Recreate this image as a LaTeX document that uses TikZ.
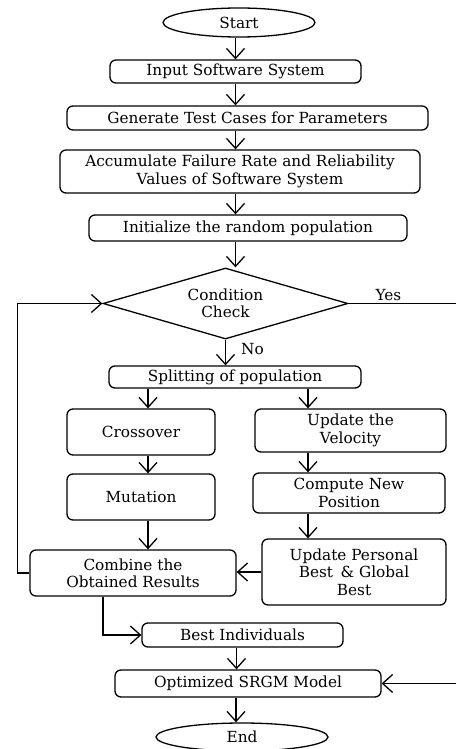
\documentclass[tikz,border=0pt]{standalone}
\usepackage{fontspec}
\setmainfont{DejaVu Serif}
\usepackage{tikz}
\usetikzlibrary{shapes.geometric,arrows.meta}

\begin{document}
\begin{tikzpicture}[x=1pt,y=-1pt,line width=1.3pt,
  every node/.style={draw=black,align=center,inner sep=1pt,font=\fontsize{15.3}{17.3}\selectfont},
  box/.style={rounded corners=6pt},
  oval/.style={ellipse,inner sep=0pt},
  test/.style={diamond,aspect=3.45,inner sep=0pt},
  lbl/.style={draw=none},
  arr/.style={-{Straight Barb[length=10pt,width=18pt]}}]
\useasboundingbox (0,0) rectangle (456,749);
\node[oval,minimum width=152,minimum height=29] (start) at (239,22.5) {Start};
\node[box,minimum width=251,minimum height=23] (input) at (235.5,71.5) {Input Software System};
\node[box,minimum width=361,minimum height=24] (gen) at (247.5,118) {Generate Test Cases for Parameters};
\node[box,minimum width=360,minimum height=43] (acc) at (240,171.5) {Accumulate Failure Rate and Reliability\\Values of  Software System};
\node[box,minimum width=318,minimum height=26] (init) at (248,228) {Initialize the random population};
\node[test,minimum width=245,minimum height=71] (cond) at (225.5,303.5) {Condition\\Check};
\node[box,minimum width=252,minimum height=22] (split) at (235,377) {Splitting of population};
\node[box,minimum width=148,minimum height=46] (cross) at (141,432) {Crossover};
\node[box,minimum width=191,minimum height=43] (vel) at (350.5,430.5) {Update the\\Velocity};
\node[box,minimum width=148,minimum height=46] (mut) at (141,497) {Mutation};
\node[box,minimum width=192,minimum height=40] (comp) at (349,493) {Compute New\\Position};
\node[box,minimum width=184,minimum height=66] (upd) at (354,572) {Update Personal\\Best \,\& Global\\Best};
\node[box,minimum width=206,minimum height=46] (comb) at (133,573) {Combine the\\Obtained Results};
\node[box,minimum width=201,minimum height=24] (best) at (242.5,635) {Best Individuals};
\node[box,minimum width=266,minimum height=27] (opt) at (248,683.5) {Optimized SRGM Model};
\node[oval,minimum width=172,minimum height=28] (end) at (242,737) {End};
\coordinate (yes) at (456,303.5);
\coordinate (back) at (456,683.5);
\draw[arr] (input.north |- start.south) -- (input.north);
\draw[arr] (input.south) -- (input.south |- gen.north);
\draw[arr] (input.south |- gen.south) -- (input.south |- acc.north);
\draw[arr] (input.south |- acc.south) -- (input.south |- init.north);
\draw[arr] (input.south |- init.south) -- (input.south |- cond.north);
\draw (cond.east) -- (yes) node[lbl,pos=.37,above=1pt] {Yes};
\draw[arr] (cond.south) -- (cond.south |- split.north) node[lbl,pos=.35,right=14pt] {No};
\draw[arr] ([xshift=7]cross.north |- split.south) -- ([xshift=7]cross.north);
\draw[arr] ([xshift=-42.5]vel.north |- split.south) -- ([xshift=-42.5]vel.north);
\draw[arr] ([xshift=7]cross.south) -- ([xshift=7]mut.north);
\draw[arr] ([xshift=-42.5]vel.south) -- ([xshift=-42.5]vel.south |- comp.north);
\draw[arr] ([xshift=-42.5]vel.south |- comp.south) -- ([xshift=-42.5]vel.south |- upd.north);
\draw[arr] ([xshift=7]mut.south) -- ([xshift=7]mut.south |- comb.north);
\draw[arr] (upd.west) -- (upd.west -| comb.east);
\draw[arr] (comb.west) -- ++(-12,0) |- (cond.west);
\draw[arr] ([xshift=-30]comb.south) |- (best.west);
\draw[arr] ([xshift=-6]best.south) -- ([xshift=-6]best.south |- opt.north);
\draw[arr] (back) -- (opt.east);
\draw[arr] ([xshift=-12]opt.south) -- ([xshift=-12]opt.south |- end.north);
\end{tikzpicture}
\end{document}
